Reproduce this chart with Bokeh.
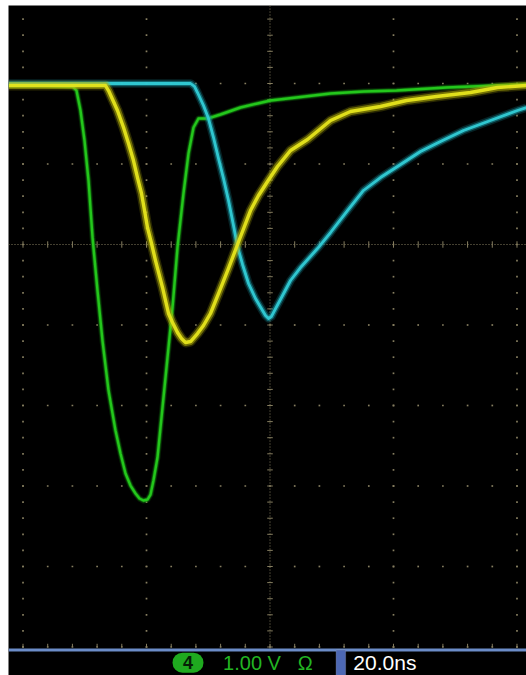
import numpy as np
from bokeh.plotting import figure
from bokeh.models import Label, BoxAnnotation, Span, Range1d
from bokeh.embed import file_html
from bokeh.resources import INLINE

# ---- data (time in ns, amplitude in V) ----
yellow_t = [-42.3, -37.2, -31.5, -26.64, -26.15, -24.70, -23.72, -22.91, -22.11, -21.46, -20.81,
            -20.32, -19.84, -19.19, -18.54, -17.41, -16.44, -15.79, -14.98, -14.33, -13.68,
            -12.87, -11.74, -10.77, -9.64, -8.34, -6.72, -5.26, -3.16, -1.86, -0.40, 1.21, 3.32,
            6.07, 9.80, 13.04, 17.89, 22.11, 26.96, 32.47, 36.84, 41.54]
yellow_v = [1.975, 1.975, 1.975, 1.975, 1.913, 1.665, 1.453, 1.255, 1.043, 0.832, 0.634,
            0.422, 0.211, 0.012, -0.199, -0.534, -0.857, -0.969, -1.093, -1.168, -1.217,
            -1.205, -1.106, -1.006, -0.857, -0.609, -0.298, 0.0, 0.422, 0.609, 0.783, 0.969, 1.168,
            1.304, 1.540, 1.652, 1.714, 1.789, 1.839, 1.888, 1.950, 1.975]

green_t = [-42.3, -37.2, -31.98, -31.34, -30.69, -30.04, -29.39, -28.74, -27.94, -27.13, -26.15,
           -25.02, -24.21, -23.40, -22.59, -21.78, -21.13, -20.49, -19.84, -19.35, -18.87, -18.22,
           -17.41, -16.60, -15.79, -14.98, -14.01, -13.20, -12.39, -11.58, -10.12, -8.02, -4.78,
           -2.02, 0.08, 4.29, 9.80, 15.14, 20.49, 28.58, 36.68, 41.54]
green_v = [1.975, 1.975, 1.963, 1.913, 1.665, 1.292, 0.795, 0.087, -0.571, -1.193, -1.814,
           -2.311, -2.596, -2.845, -2.994, -3.093, -3.155, -3.180, -3.168, -3.106, -2.932, -2.646,
           -2.025, -1.404, -0.783, -0.037, 0.634, 1.130, 1.453, 1.565, 1.565, 1.615, 1.702,
           1.752, 1.789, 1.826, 1.876, 1.901, 1.913, 1.950, 1.975, 1.988]

cyan_t = [-42.3, -33.93, -25.83, -19.35, -12.87, -12.23, -11.74, -10.77, -9.96, -9.15, -8.34,
          -7.53, -6.72, -5.91, -5.26, -4.45, -3.48, -2.35, -1.21, -0.73, -0.24, 0.24, 0.73, 1.86,
          3.32, 4.94, 7.69, 9.80, 12.55, 15.14, 17.89, 20.65, 24.37, 27.61, 31.34, 35.71, 40.08,
          41.54]
cyan_v = [2.0, 2.0, 2.0, 2.0, 2.0, 1.963, 1.888, 1.727, 1.565, 1.329, 1.068,
          0.820, 0.547, 0.236, -0.025, -0.248, -0.484, -0.671, -0.820, -0.882, -0.919, -0.894,
          -0.820, -0.658, -0.447, -0.286, -0.050, 0.149, 0.422, 0.671, 0.832, 0.969, 1.155, 1.280,
          1.416, 1.540, 1.665, 1.702]

ch_label = "4"
scale_label = "1.00 V"
ohm_label = "\u03a9"
time_label = "20.0ns"

# ---- figure ----
X0, X1 = -42.35, 41.54
Y0, Y1 = -5.354, 2.969
SCOPE_BOTTOM = -5.019

p = figure(width=526, height=675, x_range=Range1d(X0, X1), y_range=Range1d(Y0, Y1),
           output_backend="svg", toolbar_location=None,
           min_border_left=8, min_border_top=5, min_border_right=0, min_border_bottom=0,
           x_axis_location=None, y_axis_location=None,
           background_fill_color="black", border_fill_color="white",
           outline_line_color=None)
p.xgrid.visible = False
p.ygrid.visible = False

GRID = "#867e60"

# graticule dots
major_t = [-40, -20, 20, 40]
major_v = [-5, -4, -3, -2, -1, 1, 2, 3]
minor_v = np.round(np.arange(-5.0, 3.01, 0.2), 3)
minor_t = np.arange(-44, 44.1, 4)

dx, dy = [], []
for t in major_t:
    for v in minor_v:
        dx.append(t); dy.append(v)
for v in major_v:
    for t in minor_t:
        dx.append(t); dy.append(v)
p.scatter(dx, dy, marker="square", size=1.7, fill_color=GRID, line_color=None)

# center axes: fine dotted lines with cross ticks
p.line([X0, X1], [0, 0], line_color=GRID, line_width=1, line_dash="1 2")
p.line([0, 0], [SCOPE_BOTTOM, Y1], line_color=GRID, line_width=1, line_dash="1 2")
tv = [v for v in minor_v if abs(v) > 1e-6]
p.segment(x0=[-0.45] * len(tv), x1=[0.45] * len(tv), y0=tv, y1=tv, line_color=GRID, line_width=1)
tt = [t for t in minor_t if t != 0]
p.segment(x0=tt, x1=tt, y0=[-0.04] * len(tt), y1=[0.04] * len(tt), line_color=GRID, line_width=1)
# bottom edge ticks
p.segment(x0=list(minor_t), x1=list(minor_t), y0=[-5.0] * len(minor_t), y1=[-4.96] * len(minor_t),
          line_color=GRID, line_width=1)

# traces: faint halo, noisy band and bright core
def trace(t, v, core, band, whalo, wband, wcore):
    p.line(t, v, line_color=band, line_width=whalo, line_alpha=0.22, line_join="round")
    p.line(t, v, line_color=band, line_width=wband, line_alpha=0.55, line_join="round")
    p.line(t, v, line_color=core, line_width=wcore, line_alpha=0.95, line_join="round")

trace(green_t, green_v, "#26cc1e", "#169e12", 6, 4, 2.4)
trace(cyan_t, cyan_v, "#33ccd6", "#1a9aa8", 8.5, 5.5, 2.8)
trace(yellow_t, yellow_v, "#e6e51c", "#b5b20a", 10, 7, 3.4)

# ---- status bar ----
p.add_layout(Span(location=-5.037, dimension="width", line_color="#6b8cc8", line_width=3))
p.add_layout(BoxAnnotation(left=10.7, right=12.25, top=-5.037, bottom=Y0 - 1,
                           fill_color="#4d68b4", fill_alpha=1, line_color="#9aa3b8",
                           line_width=1))
p.add_layout(BoxAnnotation(left=-15.79, right=-10.77, top=-5.07, bottom=-5.32,
                           fill_color="#1faa1f", fill_alpha=1, line_color=None,
                           border_radius=10))
TY = -5.195
p.add_layout(Label(x=-13.28, y=TY, text=ch_label, text_align="center",
                   text_baseline="middle", text_font="Liberation Sans",
                   text_font_size="18px", text_font_style="bold", text_color="#062006"))
p.add_layout(Label(x=-7.6, y=TY, text=scale_label, text_align="left",
                   text_baseline="middle", text_font="Liberation Sans",
                   text_font_size="20px", text_color="#22b522"))
p.add_layout(Label(x=4.5, y=TY, text=ohm_label, text_align="left",
                   text_baseline="middle", text_font="Liberation Sans",
                   text_font_size="20px", text_color="#22b522"))
p.add_layout(Label(x=13.5, y=TY, text=time_label, text_align="left",
                   text_baseline="middle", text_font="Liberation Sans",
                   text_font_size="21px", text_color="white"))

open("out.html", "w").write(file_html(p, INLINE))
